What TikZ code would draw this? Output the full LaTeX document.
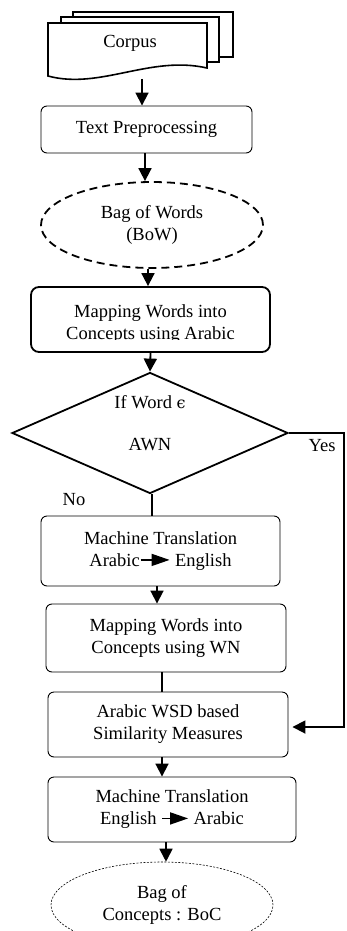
\documentclass[tikz,border=0pt]{standalone}
\usepackage{fontspec}
\setmainfont{Liberation Serif}
\newfontfamily\dvserif{DejaVu Serif}
\usetikzlibrary{shapes.geometric,arrows.meta}
\newcommand\inarrow[2]{\tikz[baseline=-6.5pt]\draw[line width=1.6pt,-{Triangle[length=#2,width=12pt]}] (0pt,0pt) -- (#1,0pt);}
\begin{document}
\begin{tikzpicture}[x=1pt,y=-1pt,
  font=\fontsize{18.5}{22}\selectfont,
  box/.style={draw, rounded corners=6pt, line width=0.9pt, inner sep=0pt, align=center},
  conn/.style={line width=1.8pt},
  arr/.style={conn, -{Triangle[length=13pt,width=13pt]}},
  page/.style={draw, fill=white, line width=1.6pt},
  lbl/.style={inner sep=0pt, align=center}]
\useasboundingbox (0,0) rectangle (346,931);

% Corpus (multi-document)
\draw[page] (73,12) rectangle (233,57);
\draw[page] (61,17) rectangle (219,62);
\draw[page] (48,23) -- (207,23) -- (207,68) .. controls (150,55) and (100,90) .. (48,76) -- cycle;
\node[lbl] (corpus) at (130,43) {Corpus};
\coordinate (cbot) at (142,79);

% Text Preprocessing
\node[box, minimum width=211pt, minimum height=47pt] (tp) at (146.5,129.5) {Text Preprocessing};
\draw[arr] (cbot) -- (cbot |- tp.north);

% Bag of Words
\node[draw, ellipse, dash pattern=on 8pt off 5pt, line width=1.8pt, minimum width=222pt, minimum height=86pt, inner sep=0pt, align=center] (bow) at (152,225) {Bag of Words\\(BoW)};
\draw[arr] ([xshift=-1.5pt]tp.south) -- ([xshift=-1.5pt]tp.south |- bow.north);

% Mapping Words (Arabic)
\node[box, line width=1.8pt, rounded corners=8pt, minimum width=239pt, minimum height=65pt] (map1) at (150.5,319.5) {};
\begin{scope}
  \clip (31,287) rectangle (270,339.5);
  \node[lbl] (map1t) at (150.5,324) {Mapping Words into\\Concepts using Arabic};
\end{scope}
\draw[arr] ([xshift=-4pt]bow.south) -- ([xshift=-4pt]bow.south |- map1.north);

% Decision
\node[draw, diamond, line width=1.8pt, minimum width=276pt, minimum height=121pt, inner sep=0pt] (dia) at (150,433) {};
\node[lbl] (diat) at (150,423) {If Word {\dvserif\fontsize{16}{20}\selectfont ϵ}\\[20pt]AWN};
\draw[arr] (map1.south) -- (dia.north);

\node[lbl] (yes) at (322,446) {Yes};
\node[lbl] (no) at (74,500) {No};

% Machine Translation Arabic -> English
\node[box, minimum width=239pt, minimum height=70pt] (mt1) at (160.5,551) {Machine Translation\\Arabic\inarrow{29pt}{18pt} English};
\draw[conn] ([xshift=2pt]dia.south) -- ([xshift=2pt]dia.south |- mt1.north);

% Mapping Words (WN)
\node[box, minimum width=240pt, minimum height=68pt] (map2) at (166,638) {Mapping Words into\\Concepts using WN};
\draw[arr] ([xshift=-3.5pt]mt1.south) -- ([xshift=-3.5pt]mt1.south |- map2.north);

% Arabic WSD
\node[box, minimum width=240pt, minimum height=65pt] (wsd) at (168,724.5) {Arabic WSD based\\Similarity Measures};
\draw[conn] ([xshift=-4pt]map2.south) -- ([xshift=-4pt]map2.south |- wsd.north);

% Yes branch
\coordinate (yr) at (344,433);
\coordinate (yb) at (344,727);
\draw[arr] (dia.east) -- (yr) -- (yb) -- ([xshift=4pt]wsd.east |- yb);

% Machine Translation English -> Arabic
\node[box, minimum width=248pt, minimum height=65pt] (mt2) at (172,809.5) {Machine Translation\\English \inarrow{26pt}{18pt} Arabic};
\draw[arr] ([xshift=-6pt]wsd.south) -- ([xshift=-6pt]wsd.south |- mt2.north);

% Bag of Concepts
\node[draw, ellipse, dash pattern=on 2pt off 1.5pt, line width=0.6pt, minimum width=222pt, minimum height=86pt, inner sep=0pt, align=center] (boc) at (162,905) {Bag of\\Concepts : BoC};
\draw[arr] ([xshift=-6pt]mt2.south) -- ([xshift=-6pt]mt2.south |- boc.north);
\end{tikzpicture}
\end{document}
